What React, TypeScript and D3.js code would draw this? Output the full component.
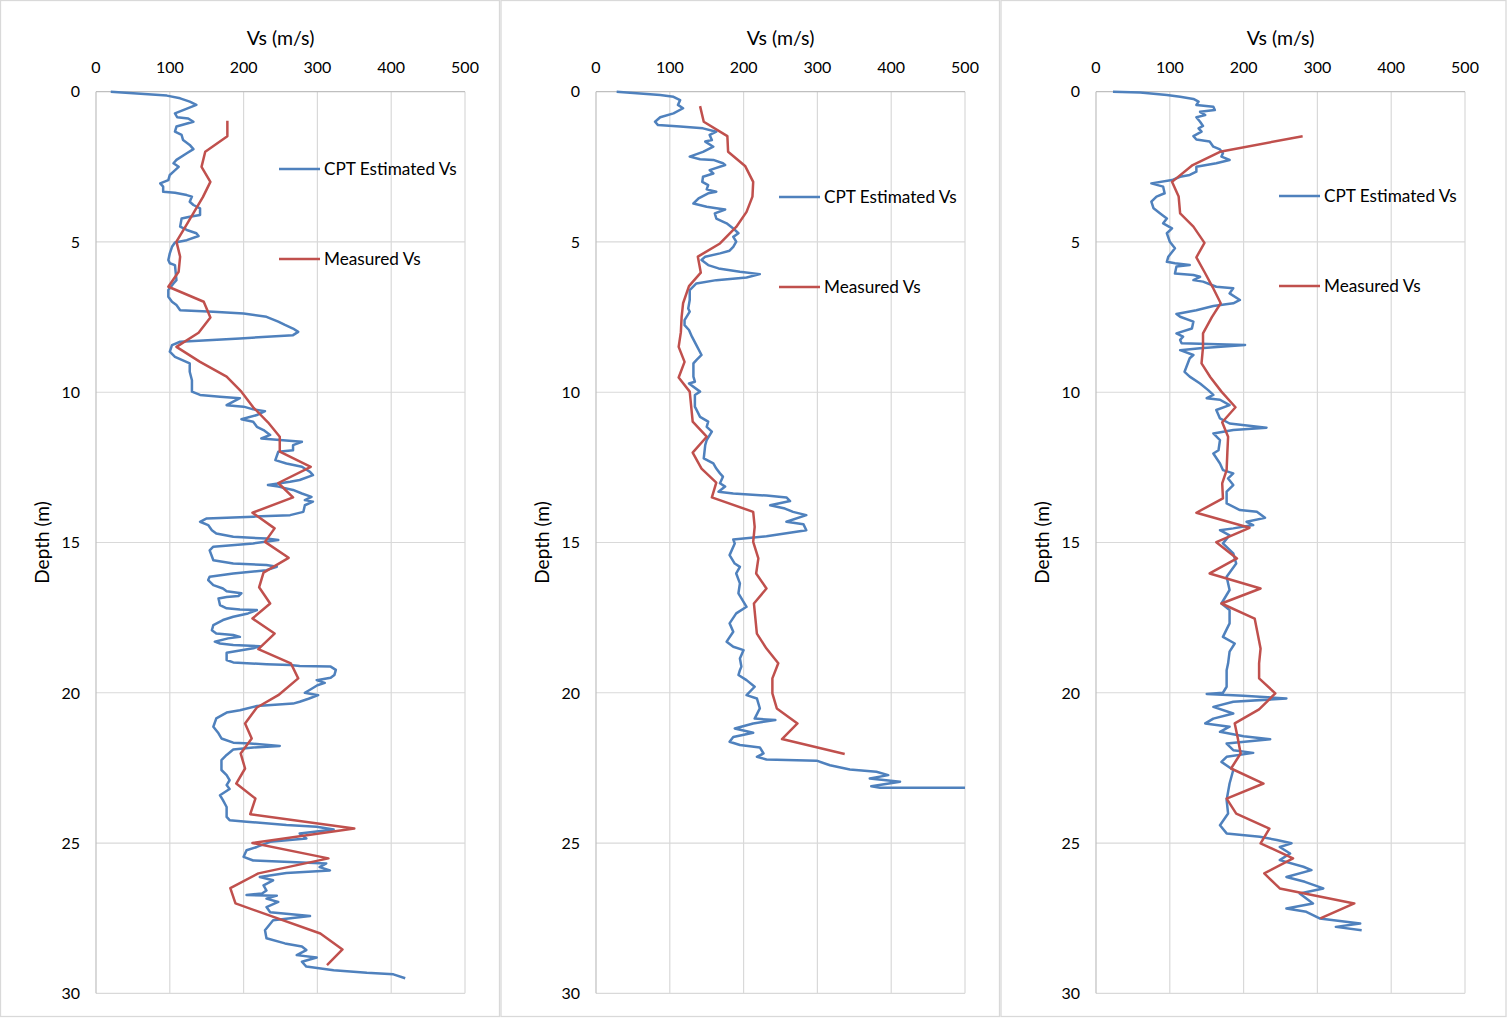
import { useEffect, useRef } from "react"
import * as d3 from "d3"

type Pt = [number, number] // [depth (m), Vs (m/s)]

const xTicks = [0, 100, 200, 300, 400, 500]
const yTicks = [0, 5, 10, 15, 20, 25, 30]
const seriesNames = ["CPT Estimated Vs", "Measured Vs"]

// Panel 1
const cpt1: Pt[] = [
  [0, 20], [0.13, 96], [0.22, 114], [0.33, 127], [0.44, 136], [0.72, 107], [0.85, 110], [0.89, 125], [1.0, 132],
  [1.16, 109], [1.33, 107], [1.44, 116], [1.61, 118], [1.77, 127], [1.91, 132], [2.05, 123], [2.27, 109], [2.38, 105],
  [2.5, 112], [2.66, 105], [2.77, 100], [2.94, 98], [3.05, 87], [3.16, 91], [3.33, 91], [3.36, 107], [3.44, 123],
  [3.49, 130], [3.66, 127], [3.77, 132], [3.88, 141], [4.1, 141], [4.16, 127], [4.22, 116], [4.49, 114], [4.6, 123],
  [4.71, 136], [4.8, 139], [4.94, 123], [5.02, 107], [5.16, 103], [5.38, 100], [5.6, 98], [5.71, 100], [5.77, 107],
  [6.27, 109], [6.38, 105], [6.6, 98], [6.82, 98], [6.99, 103], [7.1, 109], [7.27, 114], [7.32, 159], [7.38, 200],
  [7.49, 231], [7.65, 247], [7.76, 256], [7.88, 267], [7.99, 274], [8.1, 267], [8.21, 195], [8.32, 114], [8.43, 103],
  [8.65, 100], [8.82, 107], [9.04, 127], [9.32, 127], [9.6, 130], [9.98, 130], [10.09, 141], [10.15, 168], [10.2, 195],
  [10.31, 186], [10.43, 177], [10.48, 200], [10.57, 213], [10.63, 229], [10.76, 218], [10.9, 197], [10.98, 213],
  [11.15, 218], [11.26, 227], [11.42, 236], [11.54, 224], [11.59, 249], [11.65, 279], [11.76, 267], [11.93, 267],
  [11.98, 247], [12.26, 243], [12.37, 258], [12.48, 279], [12.65, 290], [12.76, 294], [12.92, 276], [12.98, 263],
  [13.09, 233], [13.14, 247], [13.25, 267], [13.37, 279], [13.48, 292], [13.59, 283], [13.64, 294], [13.76, 283],
  [13.98, 281], [14.09, 263], [14.14, 213], [14.2, 150], [14.31, 141], [14.42, 152], [14.59, 157], [14.7, 163],
  [14.81, 186], [14.87, 231], [14.92, 247], [15.03, 213], [15.14, 159], [15.26, 154], [15.59, 159], [15.7, 186],
  [15.75, 231], [15.81, 245], [15.92, 231], [16.03, 186], [16.14, 154], [16.25, 152], [16.42, 159], [16.53, 172],
  [16.62, 177], [16.69, 197], [16.78, 193], [16.81, 177], [16.86, 166], [17.08, 168], [17.19, 177], [17.23, 195],
  [17.25, 218], [17.36, 206], [17.47, 186], [17.58, 172], [17.75, 159], [17.92, 157], [18.03, 163], [18.08, 186],
  [18.14, 195], [18.19, 179], [18.3, 161], [18.36, 168], [18.41, 186], [18.45, 222], [18.52, 213], [18.67, 177],
  [18.91, 177], [18.99, 186], [19.05, 231], [19.08, 263], [19.11, 276], [19.13, 318], [19.24, 325], [19.41, 323],
  [19.5, 318], [19.58, 299], [19.67, 310], [19.75, 300], [19.9, 290], [20.0, 283], [20.08, 301], [20.2, 288],
  [20.3, 276], [20.36, 267], [20.44, 218], [20.58, 195], [20.66, 177], [20.85, 163], [21.13, 159], [21.35, 166],
  [21.52, 170], [21.66, 186], [21.69, 209], [21.77, 249], [21.82, 213], [21.89, 186], [22.07, 177], [22.24, 170],
  [22.57, 170], [22.74, 177], [22.91, 181], [23.07, 177], [23.2, 181], [23.41, 168], [23.57, 172], [23.8, 177],
  [24.13, 177], [24.24, 181], [24.29, 204], [24.4, 258], [24.46, 299], [24.55, 322], [24.68, 276], [24.85, 285],
  [24.96, 236], [25.13, 218], [25.24, 204], [25.46, 200], [25.58, 213], [25.63, 263], [25.68, 312], [25.8, 303],
  [25.91, 317], [26.0, 258], [26.13, 222], [26.24, 240], [26.41, 227], [26.58, 231], [26.68, 225], [26.73, 204],
  [26.75, 245], [26.85, 231], [26.96, 247], [27.13, 231], [27.3, 236], [27.43, 290], [27.57, 240], [27.9, 229],
  [28.17, 231], [28.34, 256], [28.44, 279], [28.56, 285], [28.73, 272], [28.81, 299], [28.95, 279], [29.11, 285],
  [29.23, 322], [29.32, 367], [29.37, 403], [29.5, 419],
]
const meas1: Pt[] = [
  [0.97, 178], [1.48, 178], [2.0, 148], [2.5, 143], [3.0, 155], [3.5, 145], [4.0, 133], [4.5, 121], [4.99, 109],
  [5.49, 114], [5.99, 112], [6.49, 98], [6.99, 146], [7.51, 155], [8.02, 139], [8.49, 109], [8.99, 141], [9.48, 177],
  [9.98, 197], [10.5, 213], [11.0, 233], [11.48, 249], [11.98, 249], [12.48, 291], [13.02, 247], [13.5, 267],
  [14.01, 212], [14.53, 242], [14.98, 229], [15.51, 261], [16.0, 227], [16.49, 221], [17.03, 236], [17.53, 212],
  [18.03, 242], [18.55, 220], [19.02, 264], [19.52, 274], [20.08, 247], [20.49, 218], [21.02, 202], [21.52, 211],
  [22.02, 196], [22.52, 202], [23.02, 190], [23.52, 216], [24.04, 209], [24.52, 350], [25.0, 212], [25.51, 315],
  [26.01, 220], [26.5, 182], [27.01, 189], [28.01, 304], [28.54, 334], [29.06, 313],
]

// Panel 2
const cpt2: Pt[] = [
  [0, 28], [0.11, 87], [0.17, 105], [0.28, 114], [0.44, 111], [0.55, 118], [0.72, 105], [0.85, 87], [1.0, 80],
  [1.11, 84], [1.16, 114], [1.22, 145], [1.33, 163], [1.44, 154], [1.61, 157], [1.66, 148], [1.83, 159], [2.0, 145],
  [2.16, 127], [2.25, 141], [2.27, 159], [2.38, 172], [2.44, 175], [2.61, 154], [2.72, 159], [2.83, 145], [3.0, 144],
  [3.11, 152], [3.25, 150], [3.33, 163], [3.38, 152], [3.55, 139], [3.72, 132], [3.83, 150], [3.88, 163], [3.92, 175],
  [4.05, 161], [4.22, 163], [4.38, 177], [4.55, 186], [4.71, 193], [4.83, 186], [4.99, 190], [5.16, 186], [5.29, 181],
  [5.38, 168], [5.49, 148], [5.6, 143], [5.77, 152], [5.88, 166], [5.99, 195], [6.07, 222], [6.18, 204], [6.27, 163],
  [6.38, 136], [6.6, 127], [6.93, 127], [7.21, 125], [7.32, 127], [7.6, 120], [7.77, 120], [7.93, 126], [8.15, 130],
  [8.43, 136], [8.76, 143], [8.93, 136], [9.04, 132], [9.48, 132], [9.65, 134], [9.71, 126], [9.98, 141], [10.09, 134],
  [10.48, 134], [10.82, 141], [10.98, 152], [11.15, 150], [11.31, 157], [11.59, 150], [11.76, 148], [12.2, 146],
  [12.37, 159], [12.54, 163], [12.7, 168], [12.81, 172], [13.03, 168], [13.14, 175], [13.31, 166], [13.37, 186],
  [13.44, 231], [13.5, 258], [13.62, 263], [13.76, 236], [13.87, 256], [13.98, 267], [14.09, 285], [14.31, 258],
  [14.39, 281], [14.59, 285], [14.79, 231], [14.9, 186], [15.03, 188], [15.42, 181], [15.7, 188], [15.81, 195],
  [16.03, 190], [16.36, 195], [16.69, 193], [17.14, 204], [17.36, 190], [17.69, 181], [17.97, 186], [18.3, 177],
  [18.47, 186], [18.58, 200], [18.86, 195], [19.13, 197], [19.25, 195], [19.41, 193], [19.58, 204], [19.8, 215],
  [20.08, 204], [20.19, 218], [20.52, 222], [20.86, 215], [20.91, 243], [21.02, 213], [21.19, 188], [21.33, 213],
  [21.47, 186], [21.63, 181], [21.74, 195], [21.82, 222], [22.02, 227], [22.13, 218], [22.22, 231], [22.26, 299],
  [22.41, 317], [22.55, 344], [22.63, 380], [22.74, 396], [22.85, 371], [22.96, 412], [23.11, 373], [23.16, 385],
  [23.16, 500],
]
const meas2: Pt[] = [
  [0.48, 141], [1.0, 146], [1.48, 178], [2.0, 179], [2.47, 202], [3.0, 213], [3.49, 212], [4.0, 204], [4.5, 190],
  [5.05, 168], [5.49, 138], [6.02, 142], [6.47, 126], [7.04, 118], [7.5, 116], [8.0, 115], [8.49, 112], [8.99, 120],
  [9.51, 112], [9.98, 127], [10.98, 131], [11.48, 150], [12.01, 131], [12.54, 143], [13.01, 163], [13.5, 157],
  [13.98, 213], [14.48, 215], [14.98, 213], [15.53, 220], [16.03, 217], [16.53, 231], [17.03, 214], [18.03, 218],
  [18.53, 231], [19.02, 247], [19.52, 239], [20.02, 239], [20.52, 245], [21.02, 273], [21.54, 252], [22.04, 337],
]

// Panel 3
const cpt3: Pt[] = [
  [0, 23], [0.03, 60], [0.11, 96], [0.17, 114], [0.24, 132], [0.33, 139], [0.44, 136], [0.5, 159], [0.61, 161],
  [0.67, 141], [0.78, 148], [0.85, 136], [1.0, 141], [1.14, 145], [1.22, 139], [1.33, 143], [1.48, 132], [1.59, 136],
  [1.66, 154], [1.83, 159], [1.92, 168], [2.05, 172], [2.16, 170], [2.27, 181], [2.38, 163], [2.5, 136], [2.66, 136],
  [2.77, 127], [2.83, 114], [2.94, 103], [3.05, 75], [3.16, 91], [3.38, 93], [3.49, 82], [3.66, 75], [3.88, 78],
  [4.05, 87], [4.22, 96], [4.38, 91], [4.55, 103], [4.71, 96], [4.99, 100], [5.21, 107], [5.49, 98], [5.66, 96],
  [5.71, 107], [5.77, 127], [5.82, 109], [6.05, 107], [6.1, 132], [6.16, 141], [6.27, 132], [6.32, 145], [6.49, 163],
  [6.54, 186], [6.71, 181], [6.93, 195], [7.04, 186], [7.13, 159], [7.27, 136], [7.4, 109], [7.49, 114], [7.65, 132],
  [7.88, 130], [8.04, 109], [8.15, 118], [8.26, 114], [8.37, 116], [8.43, 202], [8.54, 141], [8.6, 114], [8.76, 132],
  [8.87, 127], [9.32, 120], [9.48, 127], [9.71, 141], [9.93, 152], [10.09, 159], [10.2, 150], [10.25, 168],
  [10.43, 181], [10.59, 163], [10.87, 168], [11.04, 181], [11.18, 231], [11.26, 186], [11.37, 159], [11.59, 168],
  [11.93, 166], [12.04, 159], [12.37, 168], [12.59, 172], [12.7, 186], [12.87, 179], [13.09, 186], [13.31, 177],
  [13.7, 177], [13.92, 195], [13.98, 218], [14.18, 229], [14.31, 204], [14.42, 213], [14.53, 186], [14.59, 168],
  [14.76, 181], [15.03, 172], [15.36, 186], [15.7, 190], [16.14, 177], [16.58, 181], [17.03, 170], [17.25, 181],
  [17.69, 181], [18.14, 172], [18.36, 188], [18.63, 181], [19.02, 179], [19.25, 177], [19.8, 177], [20.0, 172],
  [20.04, 150], [20.1, 200], [20.19, 258], [20.3, 186], [20.47, 159], [20.69, 186], [20.86, 159], [21.02, 148],
  [21.13, 181], [21.3, 168], [21.45, 200], [21.55, 236], [21.69, 177], [21.91, 186], [22.0, 213], [22.13, 177],
  [22.3, 170], [22.57, 186], [23.02, 181], [23.57, 177], [24.02, 179], [24.41, 168], [24.68, 177], [24.79, 222],
  [24.9, 245], [25.01, 265], [25.13, 249], [25.35, 263], [25.57, 249], [25.79, 281], [25.9, 292], [26.13, 258],
  [26.29, 283], [26.51, 308], [26.68, 276], [27.01, 294], [27.18, 258], [27.29, 285], [27.51, 303], [27.68, 358],
  [27.79, 325], [27.9, 360],
]
const meas3: Pt[] = [
  [1.48, 280], [2.0, 168], [2.44, 131], [3.0, 103], [3.49, 112], [4.05, 114], [4.49, 132], [5.03, 147], [5.51, 136],
  [6.0, 147], [6.5, 158], [7.04, 169], [7.5, 157], [8.04, 145], [8.5, 145], [9.04, 143], [9.5, 155], [9.98, 170],
  [10.5, 189], [11.0, 171], [11.48, 179], [12.0, 178], [12.59, 177], [13.03, 171], [13.53, 172], [14.01, 136],
  [14.51, 208], [14.99, 163], [15.53, 191], [16.03, 154], [16.53, 223], [17.03, 170], [17.53, 215], [18.03, 219],
  [18.53, 223], [19.02, 221], [19.52, 221], [20.02, 243], [20.55, 221], [21.02, 188], [21.5, 192], [22.02, 196],
  [22.52, 183], [23.02, 227], [23.52, 177], [24.02, 190], [24.52, 235], [25.01, 223], [25.51, 267], [26.01, 228],
  [26.51, 249], [27.01, 350], [27.51, 304],
]

const panels = [
  { x0: 0.5, x1: 499.5, cpt: cpt1, meas: meas1, legendY: [169, 259] },
  { x0: 501, x1: 999.5, cpt: cpt2, meas: meas2, legendY: [197, 287] },
  { x0: 1001, x1: 1506, cpt: cpt3, meas: meas3, legendY: [196, 286] },
]

const BLUE = "#4F81BD"
const RED = "#C0504D"
const FONT = "Lato, 'Open Sans', sans-serif"

export default function App() {
  const svgRef = useRef<SVGSVGElement>(null)

  useEffect(() => {
    if (!svgRef.current) return
    const svg = d3.select(svgRef.current)
    svg.selectAll("*").remove()

    svg.append("rect").attr("width", 1507).attr("height", 1018).attr("fill", "white")

    panels.forEach((p, i) => {
      const ox = i * 500
      const x = d3.scaleLinear().domain([0, 500]).range([ox + 96, ox + 465])
      const y = d3.scaleLinear().domain([0, 30]).range([91.7, 993.3])
      const g = svg.append("g")

      // panel border
      g.append("rect")
        .attr("x", p.x0)
        .attr("y", 0.5)
        .attr("width", p.x1 - p.x0)
        .attr("height", 1016)
        .attr("fill", "white")
        .attr("stroke", "#d9d9d9")
        .attr("stroke-width", 1.3)

      // grid
      g.selectAll(".vgrid")
        .data(xTicks.slice(1))
        .enter()
        .append("line")
        .attr("x1", (d) => x(d))
        .attr("x2", (d) => x(d))
        .attr("y1", y(0))
        .attr("y2", y(30))
        .attr("stroke", "#d9d9d9")
        .attr("stroke-width", 1.2)
      g.selectAll(".hgrid")
        .data(yTicks.slice(1))
        .enter()
        .append("line")
        .attr("x1", x(0))
        .attr("x2", x(500))
        .attr("y1", (d) => y(d))
        .attr("y2", (d) => y(d))
        .attr("stroke", "#d9d9d9")
        .attr("stroke-width", 1.2)

      // axis lines
      g.append("line").attr("x1", x(0)).attr("x2", x(500)).attr("y1", y(0)).attr("y2", y(0))
        .attr("stroke", "#bfbfbf").attr("stroke-width", 1.2)
      g.append("line").attr("x1", x(0)).attr("x2", x(0)).attr("y1", y(0)).attr("y2", y(30))
        .attr("stroke", "#bfbfbf").attr("stroke-width", 1.2)

      // tick labels
      g.selectAll(".xt")
        .data(xTicks)
        .enter()
        .append("text")
        .attr("x", (d) => x(d))
        .attr("y", 73)
        .attr("text-anchor", "middle")
        .attr("font-family", FONT)
        .attr("font-size", "16px")
        .attr("fill", "#000")
        .text((d) => d)
      g.selectAll(".yt")
        .data(yTicks)
        .enter()
        .append("text")
        .attr("x", ox + 80)
        .attr("y", (d) => y(d))
        .attr("dy", "0.36em")
        .attr("text-anchor", "end")
        .attr("font-family", FONT)
        .attr("font-size", "16px")
        .attr("fill", "#000")
        .text((d) => d)

      // axis titles
      g.append("text")
        .attr("x", (x(0) + x(500)) / 2)
        .attr("y", 45)
        .attr("text-anchor", "middle")
        .attr("font-family", FONT)
        .attr("font-size", "19.5px")
        .text("Vs (m/s)")
      g.append("text")
        .attr("transform", `translate(${ox + 49},${(y(0) + y(30)) / 2}) rotate(-90)`)
        .attr("text-anchor", "middle")
        .attr("font-family", FONT)
        .attr("font-size", "19px")
        .text("Depth (m)")

      // series
      const line = d3
        .line<Pt>()
        .x((d) => x(d[1]))
        .y((d) => y(d[0]))

      g.append("path").datum(p.cpt).attr("fill", "none").attr("stroke", BLUE)
        .attr("stroke-width", 2.5).attr("stroke-linejoin", "round").attr("d", line)
      g.append("path").datum(p.meas).attr("fill", "none").attr("stroke", RED)
        .attr("stroke-width", 2.5).attr("stroke-linejoin", "round").attr("d", line)

      // legend
      ;[BLUE, RED].forEach((c, k) => {
        const ly = p.legendY[k]
        g.append("line").attr("x1", ox + 279).attr("x2", ox + 320).attr("y1", ly).attr("y2", ly)
          .attr("stroke", c).attr("stroke-width", 2.5)
        g.append("text")
          .attr("x", ox + 324)
          .attr("y", ly)
          .attr("dy", "0.36em")
          .attr("font-family", FONT)
          .attr("font-size", "17.2px")
          .text(seriesNames[k])
      })
    })
  }, [])

  return (
    <svg
      ref={svgRef}
      width={1507}
      height={1018}
      style={{ position: "absolute", left: 0, top: 0, display: "block" }}
    />
  )
}
